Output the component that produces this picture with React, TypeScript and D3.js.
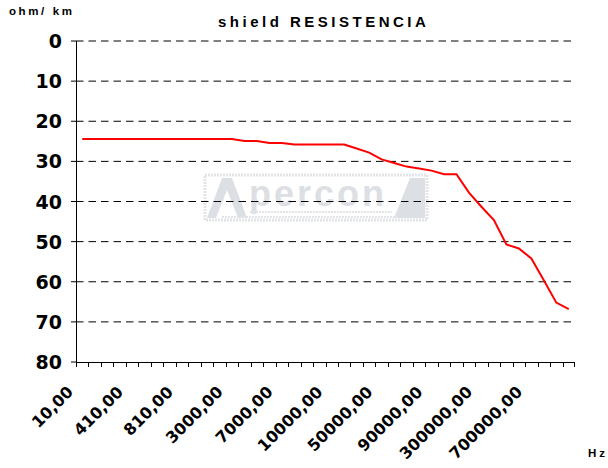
import { useEffect, useRef } from 'react';
import * as d3 from 'd3';

// frequencies (Hz) on the category axis, one label every 4th
const frequencies = [
  '10,00', '110,00', '210,00', '310,00', '410,00', '510,00', '610,00', '710,00', '810,00', '910,00',
  '1000,00', '2000,00', '3000,00', '4000,00', '5000,00', '6000,00', '7000,00', '8000,00', '9000,00', '9500,00',
  '10000,00', '20000,00', '30000,00', '40000,00', '50000,00', '60000,00', '70000,00', '80000,00', '90000,00', '100000,00',
  '150000,00', '200000,00', '300000,00', '400000,00', '500000,00', '600000,00', '700000,00', '800000,00', '900000,00', '1000000,00',
];

// shield resistance in ohm/km
const resistance = [
  24.4, 24.4, 24.4, 24.4, 24.4, 24.4, 24.4, 24.4, 24.4, 24.4,
  24.4, 24.4, 24.4, 24.9, 24.9, 25.4, 25.4, 25.8, 25.8, 25.8,
  25.8, 25.8, 26.8, 27.8, 29.5, 30.4, 31.3, 31.8, 32.3, 33.2,
  33.2, 37.8, 41.3, 44.6, 50.7, 51.7, 54.2, 59.6, 65.2, 66.8,
];

const yTicks = [0, 10, 20, 30, 40, 50, 60, 70, 80];

export default function App() {
  const svgRef = useRef<SVGSVGElement>(null);
  const width = 608;
  const height = 468;

  useEffect(() => {
    if (!svgRef.current) return;
    const svg = d3.select(svgRef.current);
    svg.selectAll('*').remove();

    const left = 76;
    const right = 575;
    const top = 41;
    const bottom = 362;

    const x = d3.scaleBand().domain(frequencies).range([left, right]).padding(0);
    const y = d3.scaleLinear().domain([0, 80]).range([top, bottom]);
    const cx = (f: string) => (x(f) || 0) + x.bandwidth() / 2;

    svg.append('rect').attr('width', width).attr('height', height).attr('fill', '#fff');

    // watermark
    const wm = svg.append('g').attr('fill', '#dcdfe3').attr('stroke', 'none');
    wm.append('rect')
      .attr('x', 205).attr('y', 175).attr('width', 222).attr('height', 45)
      .attr('fill', 'none').attr('stroke', '#e2e4e7').attr('stroke-width', 3)
      .attr('stroke-dasharray', '2,1');
    wm.append('polygon').attr('points', '207,218 222,178 232,178 247,218 238,218 227,190 216,218');
    wm.append('polygon').attr('points', '394,218 410,178 425,178 425,218');
    wm.append('text')
      .attr('x', 318).attr('y', 206)
      .attr('text-anchor', 'middle')
      .style('font-family', '"Liberation Sans", Arial, sans-serif')
      .style('font-weight', 'bold')
      .style('font-size', '36px')
      .style('letter-spacing', '3px')
      .text('percon');
    wm.append('line')
      .attr('x1', 250).attr('x2', 392).attr('y1', 212).attr('y2', 212)
      .attr('stroke', '#e2e4e7').attr('stroke-width', 2).attr('stroke-dasharray', '2,1');
    wm.append('line')
      .attr('x1', 222).attr('x2', 398).attr('y1', 217).attr('y2', 217)
      .attr('stroke', '#e2e4e7').attr('stroke-width', 2).attr('stroke-dasharray', '2,1');

    // gridlines
    svg.append('g')
      .selectAll('line')
      .data(yTicks.slice(0, -1))
      .enter()
      .append('line')
      .attr('x1', left)
      .attr('x2', right)
      .attr('y1', (d) => y(d))
      .attr('y2', (d) => y(d))
      .attr('stroke', '#000')
      .attr('stroke-width', 1)
      .attr('stroke-dasharray', '7.5,5');

    // y axis
    const yAxis = svg.append('g');
    yAxis.append('line')
      .attr('x1', left + 0.5).attr('x2', left + 0.5).attr('y1', top).attr('y2', bottom)
      .attr('stroke', '#000');
    yAxis.selectAll('line.tick')
      .data(yTicks)
      .enter()
      .append('line')
      .attr('class', 'tick')
      .attr('x1', left - 5).attr('x2', left)
      .attr('y1', (d) => y(d)).attr('y2', (d) => y(d))
      .attr('stroke', '#000');
    yAxis.selectAll('text')
      .data(yTicks)
      .enter()
      .append('text')
      .attr('x', 62)
      .attr('y', (d) => y(d) + 7)
      .attr('text-anchor', 'end')
      .style('font-family', '"DejaVu Sans", sans-serif')
      .style('font-weight', 'bold')
      .style('font-size', '19px')
      .text((d) => d);

    // x axis
    const xAxis = svg.append('g');
    xAxis.append('line')
      .attr('x1', left).attr('x2', right).attr('y1', bottom + 0.5).attr('y2', bottom + 0.5)
      .attr('stroke', '#000');
    xAxis.selectAll('line.tick')
      .data(frequencies)
      .enter()
      .append('line')
      .attr('class', 'tick')
      .attr('x1', (d) => Math.round(x(d) || 0) + 0.5)
      .attr('x2', (d) => Math.round(x(d) || 0) + 0.5)
      .attr('y1', bottom)
      .attr('y2', bottom + 5)
      .attr('stroke', '#000');
    xAxis.append('line')
      .attr('x1', right - 0.5).attr('x2', right - 0.5).attr('y1', bottom).attr('y2', bottom + 5)
      .attr('stroke', '#000');
    xAxis.selectAll('text')
      .data(frequencies.filter((_, i) => i % 4 === 0))
      .enter()
      .append('text')
      .attr('transform', (d) => `translate(${cx(d) - 8},${bottom + 31}) rotate(-45)`)
      .attr('text-anchor', 'end')
      .style('font-family', '"DejaVu Sans", sans-serif')
      .style('font-weight', 'bold')
      .style('font-size', '16px')
      .text((d) => d);

    // data line
    const line = d3
      .line<number>()
      .x((_, i) => cx(frequencies[i]))
      .y((d) => y(d));
    svg.append('path')
      .datum(resistance)
      .attr('d', line)
      .attr('fill', 'none')
      .attr('stroke', '#ff0000')
      .attr('stroke-width', 2);

    const txt = (s: string, tx: number, ty: number, size: number, spacing: number, anchor = 'start') =>
      svg.append('text')
        .attr('x', tx)
        .attr('y', ty)
        .attr('text-anchor', anchor)
        .style('font-family', '"Liberation Sans", Arial, sans-serif')
        .style('font-weight', 'bold')
        .style('font-size', `${size}px`)
        .style('letter-spacing', `${spacing}px`)
        .text(s);

    txt('shield RESISTENCIA', 218, 27, 15, 3.5);
    txt('ohm/ km', 9, 15, 11.5, 2.6);
    txt('Hz', 588, 457, 11.5, 3);
  }, []);

  return (
    <div style={{ width, height }}>
      <svg ref={svgRef} width={width} height={height} style={{ position: 'absolute', left: 0, top: 0 }} />
    </div>
  );
}
